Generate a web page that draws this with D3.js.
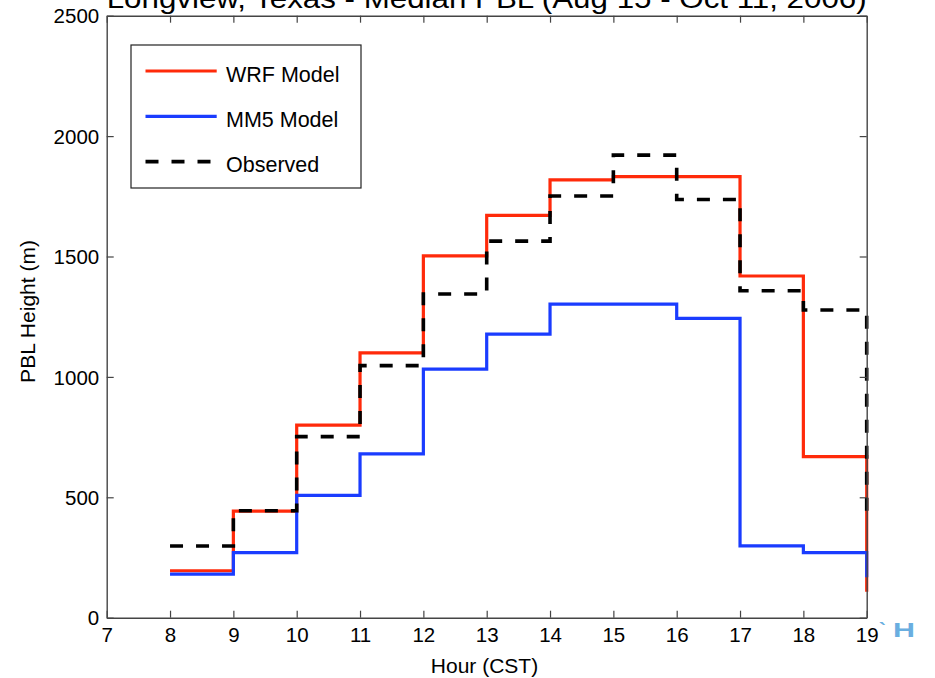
<!DOCTYPE html>
<html>
<head>
<meta charset="utf-8">
<script src="https://d3js.org/d3.v7.min.js"></script>
<style>
  body { margin: 0; background: #fff; }
  text { font-family: "Liberation Sans", Arial, Helvetica, sans-serif; }
</style>
</head>
<body>
<script>
    // hours (CST) and median PBL heights (m)
    let hours = [8, 9, 10, 11, 12, 13, 14, 15, 16, 17, 18, 19];
    let wrf = [195, 443, 800, 1100, 1503, 1671, 1818, 1832, 1832, 1419, 669, 108];
    let mm5 = [181, 270, 508, 680, 1032, 1178, 1302, 1302, 1243, 298, 270, 168];
    let observed = [298, 444, 752, 1047, 1344, 1564, 1751, 1921, 1737, 1358, 1278, 418];

    let seriesNames = ["WRF Model", "MM5 Model", "Observed"];
    let xTicks = [7, 8, 9, 10, 11, 12, 13, 14, 15, 16, 17, 18, 19];
    let yTicks = [0, 500, 1000, 1500, 2000, 2500];

    let width = 935;
    let height = 678;
    let plotLeft = 106.7, plotRight = 866.7, plotTop = 15.7, plotBottom = 617.7;
    let axisColor = "#444";

    let svg = d3.select("body").append("svg")
        .attr("width", width)
        .attr("height", height)
        .style("background-color", "white");

    let x = d3.scaleLinear().domain([7, 19]).range([plotLeft, plotRight]);
    let y = d3.scaleLinear().domain([0, 2500]).range([plotBottom, plotTop]);

    // title (its upper half is cut off by the top of the picture, as in the original)
    svg.append("text")
        .attr("x", (plotLeft + plotRight) / 2)
        .attr("y", 8)
        .attr("text-anchor", "middle")
        .attr("font-size", 28)
        .attr("textLength", 760)
        .attr("lengthAdjust", "spacingAndGlyphs")
        .text("Longview, Texas - Median PBL (Aug 15 - Oct 11, 2006)");

    // step lines
    let line = d3.line()
        .x(function (d) { return x(d[0]); })
        .y(function (d) { return y(d[1]); })
        .curve(d3.curveStepAfter);

    let series = [
        { name: seriesNames[0], values: wrf, color: "#ff2a0a", dash: null, w: 3.2 },
        { name: seriesNames[1], values: mm5, color: "#1a3cff", dash: null, w: 3.2 },
        { name: seriesNames[2], values: observed, color: "#000", dash: "13,13", w: 3.6 }
    ];

    series.forEach(function (s) {
        svg.append("path")
            .datum(hours.map(function (h, i) { return [h, s.values[i]]; }))
            .attr("d", line)
            .attr("fill", "none")
            .attr("stroke", s.color)
            .attr("stroke-width", s.w)
            .attr("stroke-dasharray", s.dash);
    });

    // axes, box style with inward ticks on all four sides
    let xAxis = svg.append("g")
        .attr("transform", "translate(0," + plotBottom + ")")
        .call(d3.axisBottom(x).tickValues(xTicks).tickFormat(d3.format("d"))
            .tickSizeInner(-7).tickSizeOuter(0));
    let yAxis = svg.append("g")
        .attr("transform", "translate(" + plotLeft + ",0)")
        .call(d3.axisLeft(y).tickValues(yTicks).tickFormat(d3.format("d"))
            .tickSizeInner(-7).tickSizeOuter(0));
    svg.append("g")
        .attr("transform", "translate(0," + plotTop + ")")
        .call(d3.axisTop(x).tickValues(xTicks).tickSizeInner(-7).tickSizeOuter(0).tickFormat(""));
    svg.append("g")
        .attr("transform", "translate(" + plotRight + ",0)")
        .call(d3.axisRight(y).tickValues(yTicks).tickSizeInner(-7).tickSizeOuter(0).tickFormat(""));

    svg.selectAll(".domain").attr("stroke", axisColor).attr("stroke-width", 1.4);
    svg.selectAll(".tick line").attr("stroke", axisColor).attr("stroke-width", 1.2);
    svg.selectAll(".tick text")
        .attr("font-family", "Liberation Sans, Arial, sans-serif")
        .attr("font-size", 20.5)
        .attr("fill", "#000");
    xAxis.selectAll(".tick text").attr("y", 10).attr("dy", "0.72em");
    yAxis.selectAll(".tick text").attr("x", -7.5).attr("dy", "0.35em");

    // axis labels
    svg.append("text")
        .attr("x", 484.5)
        .attr("y", 673)
        .attr("text-anchor", "middle")
        .attr("font-size", 21)
        .text("Hour (CST)");

    svg.append("text")
        .attr("transform", "translate(35,311.5) rotate(-90)")
        .attr("text-anchor", "middle")
        .attr("font-size", 21)
        .text("PBL Height (m)");

    // legend
    let legend = svg.append("g");
    legend.append("rect")
        .attr("x", 131).attr("y", 45)
        .attr("width", 230).attr("height", 143)
        .attr("fill", "white")
        .attr("stroke", "#222")
        .attr("stroke-width", 1.2);

    series.forEach(function (s, i) {
        let ly = 71 + i * 45.3;
        legend.append("line")
            .attr("x1", 145.5).attr("x2", 216.7)
            .attr("y1", ly).attr("y2", ly)
            .attr("stroke", s.color)
            .attr("stroke-width", s.w)
            .attr("stroke-dasharray", s.dash);
        legend.append("text")
            .attr("x", 226)
            .attr("y", ly + 10.5)
            .attr("font-size", 21.5)
            .text(s.name);
    });

    // fragment of a logo at the lower right
    let logo = svg.append("g")
        .attr("font-family", "DejaVu Serif, serif")
        .attr("font-weight", "bold")
        .attr("fill", "#6aaee0");
    logo.append("text")
        .attr("x", 879).attr("y", 637)
        .attr("font-size", 21)
        .text("`");
    logo.append("text")
        .attr("x", 893).attr("y", 637)
        .attr("font-size", 21)
        .attr("textLength", 22)
        .attr("lengthAdjust", "spacingAndGlyphs")
        .text("H");
</script>
</body>
</html>
